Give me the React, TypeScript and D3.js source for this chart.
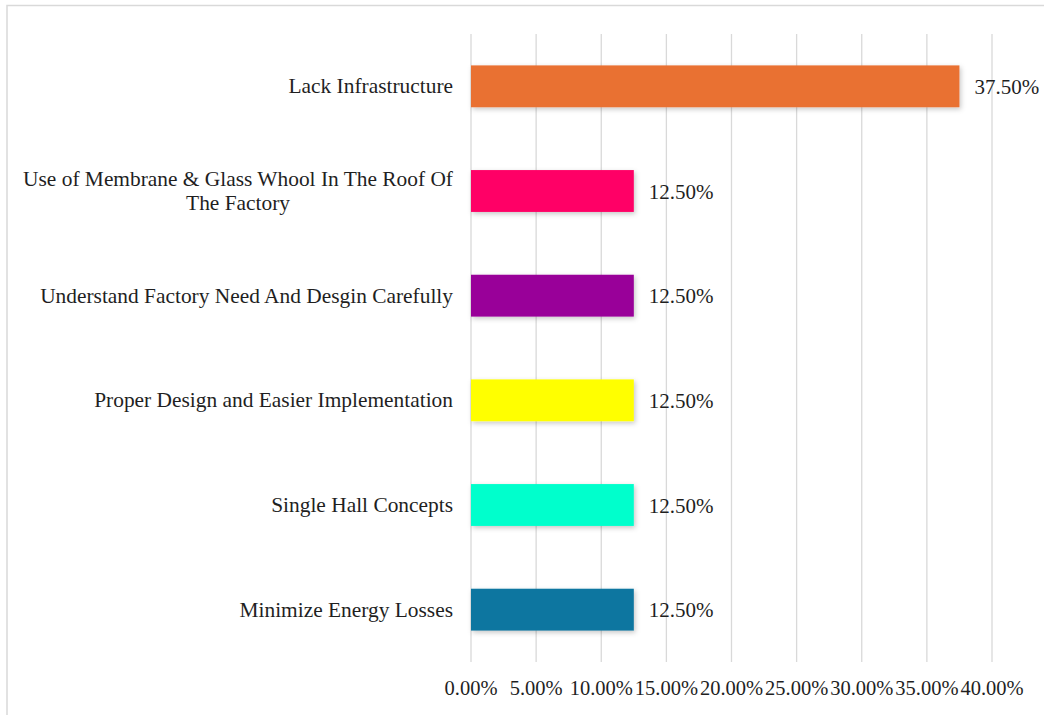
import React, { useEffect, useRef } from "react";
import * as d3 from "d3";

const categories = [
  "Lack Infrastructure",
  "Use of Membrane & Glass Whool In The Roof Of|The Factory",
  "Understand Factory Need And Desgin Carefully",
  "Proper Design and Easier Implementation",
  "Single Hall Concepts",
  "Minimize Energy Losses",
];
const values = [0.375, 0.125, 0.125, 0.125, 0.125, 0.125];
const colors = ["#E97132", "#FF0066", "#990099", "#FFFF00", "#00FFCC", "#0E76A0"];
const ticks = [0, 0.05, 0.1, 0.15, 0.2, 0.25, 0.3, 0.35, 0.4];

const W = 1044;
const H = 715;
const FONT = "'Liberation Serif', 'Times New Roman', serif";
const TXT = "#1f1f1f";

export default function App() {
  const ref = useRef<SVGSVGElement>(null);
  useEffect(() => {
    const svg = d3.select(ref.current);
    svg.selectAll("*").remove();
    const left = 471, right = 992, top = 34, bottom = 662;
    const x = d3.scaleLinear().domain([0, 0.4]).range([left, right]);
    const y = d3.scaleBand<string>().domain(categories).range([top, bottom]).paddingInner(0.6).paddingOuter(0.3);
    const fmt = d3.format(".2%");

    const defs = svg.append("defs");
    const f = defs.append("filter").attr("id", "sh").attr("x", "-10%").attr("y", "-30%").attr("width", "130%").attr("height", "170%");
    f.append("feDropShadow").attr("dx", 1.5).attr("dy", 2).attr("stdDeviation", 2.5).attr("flood-color", "#000").attr("flood-opacity", 0.22);

    svg.append("rect").attr("x", 0).attr("y", 0).attr("width", W).attr("height", H).attr("fill", "#fff");
    svg.append("rect").attr("x", 7).attr("y", 5.5).attr("width", W + 10).attr("height", H + 10)
      .attr("fill", "none").attr("stroke", "#d9d9d9").attr("stroke-width", 1.5);

    svg.append("g").selectAll("line").data(ticks).join("line")
      .attr("x1", (d) => x(d)).attr("x2", (d) => x(d))
      .attr("y1", top).attr("y2", bottom)
      .attr("stroke", "#d9d9d9").attr("stroke-width", 1.3);

    svg.append("g").selectAll("text").data(ticks).join("text")
      .attr("x", (d) => x(d)).attr("y", 695)
      .attr("text-anchor", "middle")
      .attr("font-family", FONT).attr("font-size", 20.5).attr("fill", TXT)
      .text((d) => fmt(d));

    const g = svg.append("g");
    categories.forEach((c, i) => {
      g.append("rect")
        .attr("x", x(0)).attr("y", y(c)!)
        .attr("width", x(values[i]) - x(0)).attr("height", y.bandwidth())
        .attr("fill", colors[i]).attr("filter", "url(#sh)");
      const cy = y(c)! + y.bandwidth() / 2;
      g.append("text")
        .attr("x", x(values[i]) + 15).attr("y", cy + 7.5)
        .attr("font-family", FONT).attr("font-size", 21).attr("fill", TXT)
        .text(fmt(values[i]));
      const lines = c.split("|");
      const lh = 24;
      const fs = 21.4;
      if (lines.length === 1) {
        g.append("text").attr("x", 453).attr("y", cy + 7).attr("text-anchor", "end")
          .attr("font-family", FONT).attr("font-size", fs).attr("fill", TXT).text(lines[0]);
      } else {
        const t0 = g.append("text").attr("x", 453).attr("y", cy + 7 - lh / 2).attr("text-anchor", "end")
          .attr("font-family", FONT).attr("font-size", fs).attr("fill", TXT).text(lines[0]);
        const w0 = (t0.node() as SVGTextElement).getComputedTextLength();
        g.append("text").attr("x", 453 - w0 / 2).attr("y", cy + 7 + lh / 2).attr("text-anchor", "middle")
          .attr("font-family", FONT).attr("font-size", fs).attr("fill", TXT).text(lines[1]);
      }
    });
  }, []);
  return (
    <svg ref={ref} width={W} height={H} style={{ position: "absolute", left: 0, top: 0 }} />
  );
}
